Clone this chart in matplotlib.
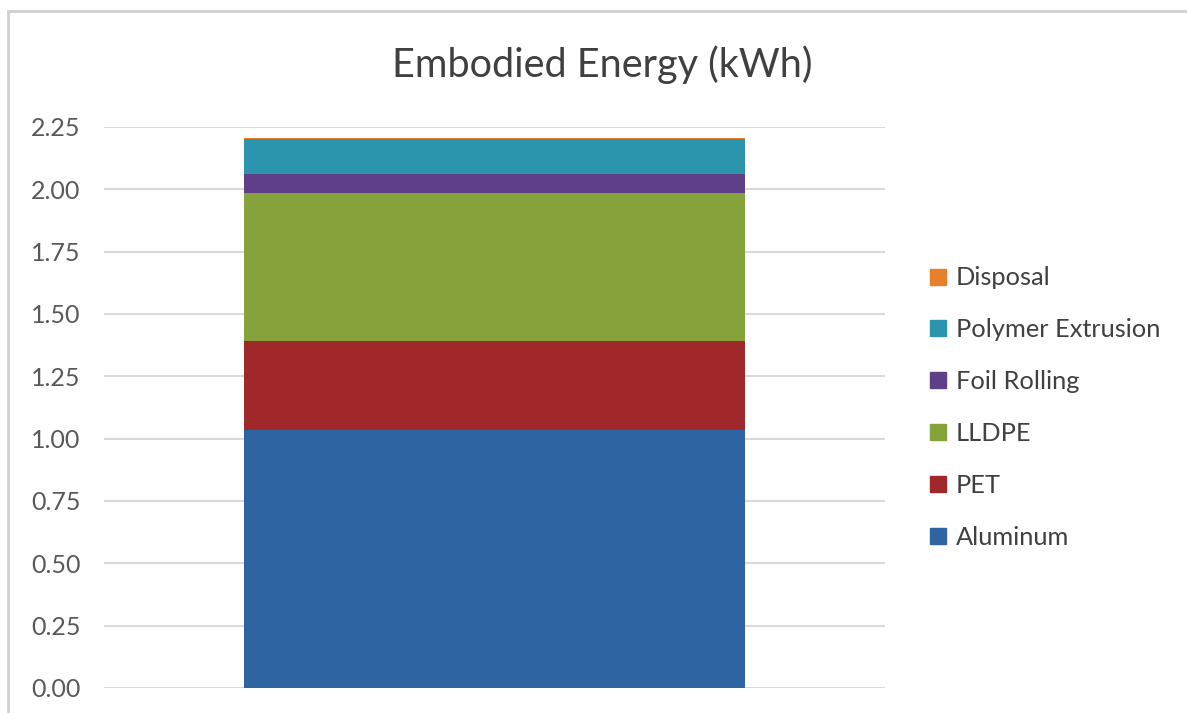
import matplotlib.pyplot as plt
from matplotlib.lines import Line2D
from matplotlib.patches import Rectangle

plt.rcParams['font.family'] = ['Lato', 'DejaVu Sans']

# Stacked components of embodied energy (kWh), bottom to top
categories = ["Aluminum", "PET", "LLDPE", "Foil Rolling", "Polymer Extrusion", "Disposal"]
values = [1.035, 0.356, 0.596, 0.073, 0.142, 0.004]
colors = ["#2E64A2", "#A0272A", "#86A23A", "#5F3F88", "#2C95AE", "#E87F2A"]
yticks = [0.00, 0.25, 0.50, 0.75, 1.00, 1.25, 1.50, 1.75, 2.00, 2.25]

fig = plt.figure(figsize=(11.87, 7.13), dpi=100)
ax = fig.add_axes([0.0876, 0.0351, 0.658, 0.7868])

bottom = 0
for name, val, col in zip(categories, values, colors):
    ax.bar(0, val, width=0.6415, bottom=bottom, color=col, label=name, zorder=3)
    bottom += val

ax.set_xlim(-0.5, 0.5)
ax.set_ylim(0, 2.25)
ax.set_yticks(yticks)
ax.set_yticklabels([f"{t:.2f}" for t in yticks])
ax.set_xticks([])
ax.grid(axis='y', color='#D9D9D9', linewidth=1.5, zorder=0)
ax.tick_params(axis='y', length=0, pad=17, labelsize=18, labelcolor='#595959')
for s in ax.spines.values():
    s.set_visible(False)

fig.text(0.507, 0.892, "Embodied Energy (kWh)", ha='center', va='baseline',
         fontsize=28.5, color='#404040')

handles = [Line2D([], [], marker='s', linestyle='none', markersize=11.5,
                  markerfacecolor=c, markeredgecolor=c) for c in colors]
leg = fig.legend(handles[::-1], categories[::-1], loc='center left',
                 bbox_to_anchor=(0.783, 0.428), frameon=False, fontsize=18.3,
                 handlelength=0.7, handletextpad=0.35, labelspacing=1.14,
                 borderpad=0, borderaxespad=0)
for t in leg.get_texts():
    t.set_color('#404040')

# outer chart border
fig.patches.append(Rectangle((8 / 1187, -0.05), 1.2, 1 - 11 / 713 + 0.05,
                             transform=fig.transFigure, fill=False,
                             edgecolor='#CFCFCF', linewidth=2))

plt.savefig("out.png", dpi=100)
plt.close()
